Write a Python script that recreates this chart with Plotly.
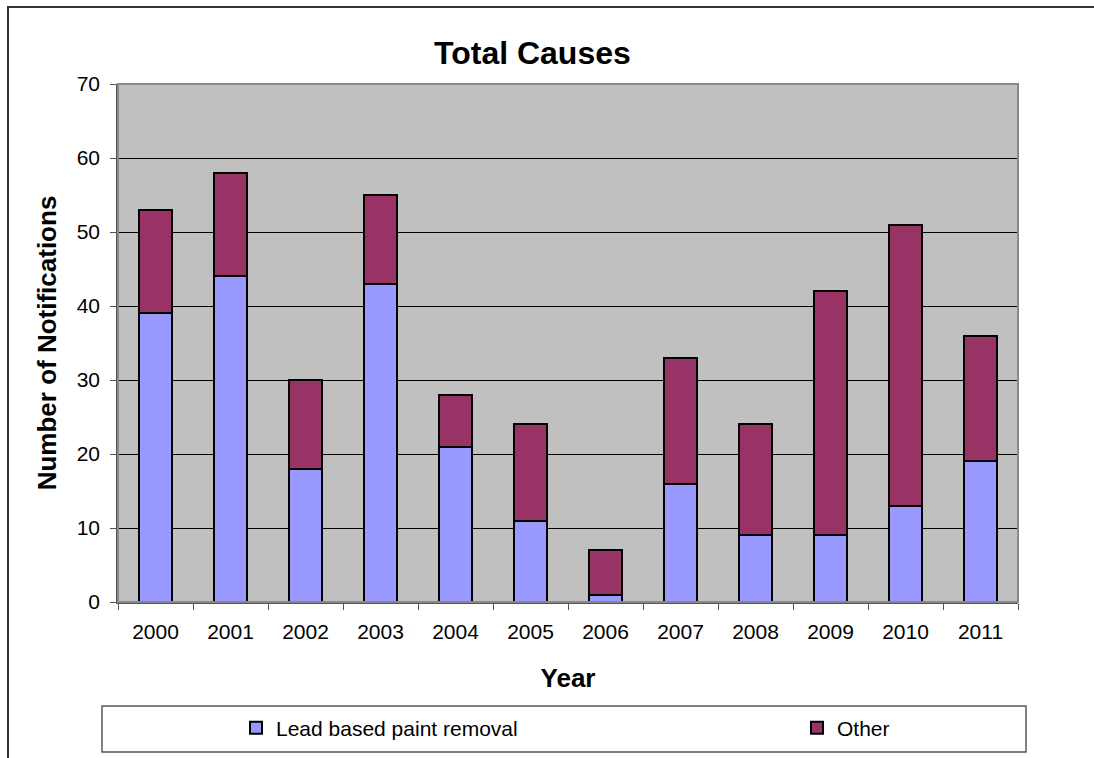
import plotly.graph_objects as go

years = ["2000", "2001", "2002", "2003", "2004", "2005", "2006", "2007", "2008", "2009", "2010", "2011"]
lead_paint = [39, 44, 18, 43, 21, 11, 1, 16, 9, 9, 13, 19]
other = [14, 14, 12, 12, 7, 13, 6, 17, 15, 33, 38, 17]
y_ticks = [0, 10, 20, 30, 40, 50, 60, 70]

FONT = "Liberation Sans, Arial, sans-serif"
W, H = 1094, 758
L, R, T, B = 118, 1018, 84, 602


def px_x(x):
    return (x - L) / (R - L)


def px_y(y):
    return (B - y) / (B - T)


fig = go.Figure()
fig.add_trace(go.Bar(
    x=years, y=lead_paint, name="Lead based paint removal", legend="legend",
    showlegend=True,
    marker=dict(color="#9999FF", line=dict(color="#000000", width=2)),
))
fig.add_trace(go.Bar(
    x=years, y=other, name="Other", legend="legend2", showlegend=True,
    marker=dict(color="#993366", line=dict(color="#000000", width=2)),
))

shapes = [
    # outer chart frame
    dict(type="rect", xref="paper", yref="paper",
         x0=px_x(8), x1=px_x(1110), y0=px_y(780), y1=px_y(7),
         line=dict(color="#333333", width=2), layer="below"),
    # plot area border
    dict(type="rect", xref="paper", yref="paper",
         x0=0, x1=1, y0=0, y1=1,
         line=dict(color="#888888", width=2), layer="above"),
    # legend frame
    dict(type="rect", xref="paper", yref="paper",
         x0=px_x(102), x1=px_x(1026), y0=px_y(752), y1=px_y(706),
         line=dict(color="#555555", width=1.5), fillcolor="rgba(0,0,0,0)"),
]

legend_common = dict(orientation="h", yanchor="middle", y=px_y(728), xanchor="left",
                     bgcolor="rgba(0,0,0,0)", font=dict(size=21))

fig.update_layout(
    width=W, height=H,
    margin=dict(l=L, r=W - R, t=T, b=H - B, autoexpand=False),
    barmode="stack", bargap=0.56, showlegend=True,
    plot_bgcolor="#C0C0C0", paper_bgcolor="#FFFFFF",
    font=dict(family=FONT, color="#000000", size=21),
    title=dict(text="<b>Total Causes</b>", x=px_x(556), xanchor="center",
               y=1 - 53 / H, yanchor="middle", font=dict(size=32)),
    xaxis=dict(
        title=dict(text="<b>Year</b>", font=dict(size=26), standoff=27),
        tickson="boundaries", ticks="outside", ticklen=6, tickcolor="#555555",
        showline=True, linecolor="#555555", linewidth=1.5,
        tickfont=dict(size=21), showgrid=False, ticklabelstandoff=10,
    ),
    yaxis=dict(
        title=dict(text="<b>Number of Notifications</b>", font=dict(size=26), standoff=13),
        range=[0, 70], tickvals=y_ticks, ticks="outside", ticklen=6,
        tickcolor="#555555", showline=True, linecolor="#555555", linewidth=1.5,
        gridcolor="#000000", gridwidth=1, tickfont=dict(size=21), zeroline=False,
        ticklabelstandoff=6,
    ),
    legend=dict(x=px_x(236), **legend_common),
    legend2=dict(x=px_x(797), **legend_common),
    shapes=shapes,
)

fig.write_html("out.html")
